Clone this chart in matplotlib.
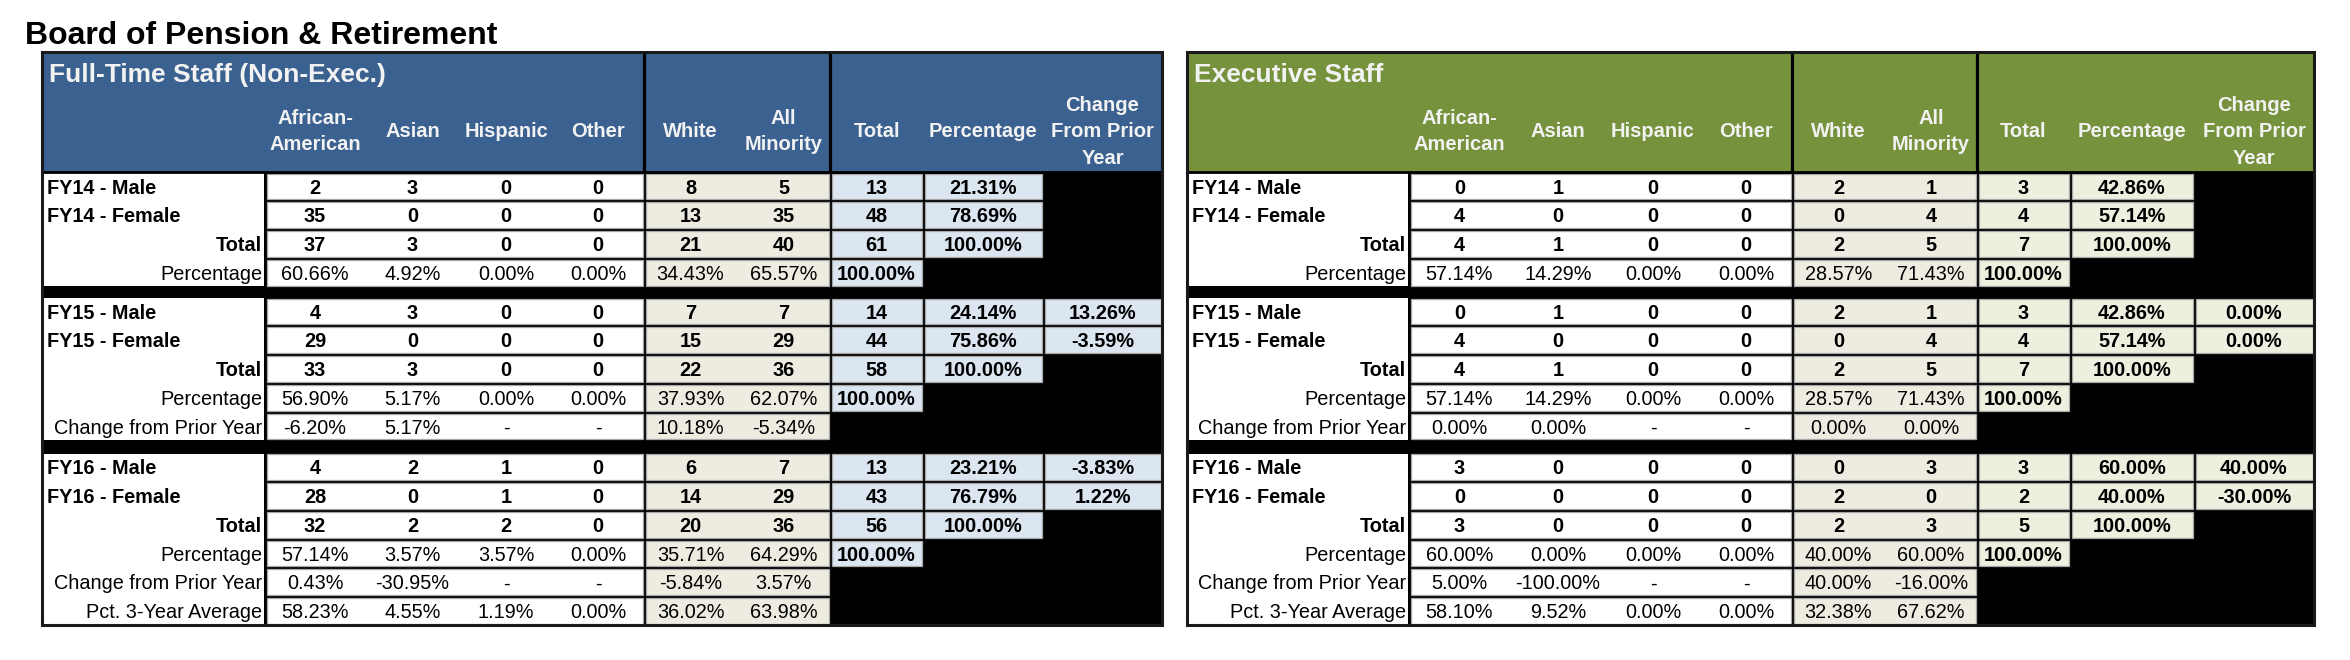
import matplotlib
matplotlib.use('Agg')
import matplotlib.pyplot as plt
from matplotlib.patches import Rectangle

plt.rcParams['font.family'] = ['Liberation Sans', 'DejaVu Sans']

# ---------------- data ----------------
title = "Board of Pension & Retirement"
col_headers = [["African-", "American"], ["Asian"], ["Hispanic"], ["Other"],
               ["White"], ["All", "Minority"], ["Total"], ["Percentage"],
               ["Change", "From Prior", "Year"]]
years = ["FY14", "FY15", "FY16"]

# Full-Time Staff (Non-Exec.)  counts: AA, Asian, Hispanic, Other, White, All Minority, Total
ft_fy14_male = [2, 3, 0, 0, 8, 5, 13]
ft_fy14_female = [35, 0, 0, 0, 13, 35, 48]
ft_fy14_total = [37, 3, 0, 0, 21, 40, 61]
ft_fy14_gender_pct = [21.31, 78.69, 100.00]
ft_fy14_pct = [60.66, 4.92, 0.00, 0.00, 34.43, 65.57, 100.00]

ft_fy15_male = [4, 3, 0, 0, 7, 7, 14]
ft_fy15_female = [29, 0, 0, 0, 15, 29, 44]
ft_fy15_total = [33, 3, 0, 0, 22, 36, 58]
ft_fy15_gender_pct = [24.14, 75.86, 100.00]
ft_fy15_gender_chg = [13.26, -3.59]
ft_fy15_pct = [56.90, 5.17, 0.00, 0.00, 37.93, 62.07, 100.00]
ft_fy15_chg = [-6.20, 5.17, None, None, 10.18, -5.34]

ft_fy16_male = [4, 2, 1, 0, 6, 7, 13]
ft_fy16_female = [28, 0, 1, 0, 14, 29, 43]
ft_fy16_total = [32, 2, 2, 0, 20, 36, 56]
ft_fy16_gender_pct = [23.21, 76.79, 100.00]
ft_fy16_gender_chg = [-3.83, 1.22]
ft_fy16_pct = [57.14, 3.57, 3.57, 0.00, 35.71, 64.29, 100.00]
ft_fy16_chg = [0.43, -30.95, None, None, -5.84, 3.57]
ft_avg3 = [58.23, 4.55, 1.19, 0.00, 36.02, 63.98]

# Executive Staff
ex_fy14_male = [0, 1, 0, 0, 2, 1, 3]
ex_fy14_female = [4, 0, 0, 0, 0, 4, 4]
ex_fy14_total = [4, 1, 0, 0, 2, 5, 7]
ex_fy14_gender_pct = [42.86, 57.14, 100.00]
ex_fy14_pct = [57.14, 14.29, 0.00, 0.00, 28.57, 71.43, 100.00]

ex_fy15_male = [0, 1, 0, 0, 2, 1, 3]
ex_fy15_female = [4, 0, 0, 0, 0, 4, 4]
ex_fy15_total = [4, 1, 0, 0, 2, 5, 7]
ex_fy15_gender_pct = [42.86, 57.14, 100.00]
ex_fy15_gender_chg = [0.00, 0.00]
ex_fy15_pct = [57.14, 14.29, 0.00, 0.00, 28.57, 71.43, 100.00]
ex_fy15_chg = [0.00, 0.00, None, None, 0.00, 0.00]

ex_fy16_male = [3, 0, 0, 0, 0, 3, 3]
ex_fy16_female = [0, 0, 0, 0, 2, 0, 2]
ex_fy16_total = [3, 0, 0, 0, 2, 3, 5]
ex_fy16_gender_pct = [60.00, 40.00, 100.00]
ex_fy16_gender_chg = [40.00, -30.00]
ex_fy16_pct = [60.00, 0.00, 0.00, 0.00, 40.00, 60.00, 100.00]
ex_fy16_chg = [5.00, -100.00, None, None, 40.00, -16.00]
ex_avg3 = [58.10, 9.52, 0.00, 0.00, 32.38, 67.62]

# ---------------- style / layout ----------------
W, H = 2350, 660
fig = plt.figure(figsize=(W / 100, H / 100), dpi=100)
ax = fig.add_axes([0, 0, 1, 1])
ax.set_xlim(0, W)
ax.set_ylim(H, 0)
ax.axis('off')

FS = 14.3
FS_HDR = 14.5
BASE = 7.2
HDR_TXT = '#F2F2F2'
BEIGE = '#EEECE1'
CELL_EDGE = '#A6A6A6'

TOP, HDR_BOT = 52, 172
RH = 28.75
GAPS = [10, 12]


def pct(v):
    return '-' if v is None else f"{v:.2f}%"


def rect(x0, y0, x1, y1, fc, ec='none', lw=0, z=1):
    ax.add_patch(Rectangle((x0, y0), x1 - x0, y1 - y0, facecolor=fc,
                           edgecolor=ec, linewidth=lw, zorder=z))


def build_blocks(p):
    g = globals()
    blocks = []
    for i, fy in enumerate(years):
        key = f"{p}_{fy.lower()}"
        male, female, total = g[key + '_male'], g[key + '_female'], g[key + '_total']
        gp = g[key + '_gender_pct']
        gc = g.get(key + '_gender_chg', [None, None])
        rows = []
        for lab, vals, gpv, gcv in [(f"{fy} - Male", male, gp[0], gc[0]),
                                    (f"{fy} - Female", female, gp[1], gc[1])]:
            cells = [(str(v), True) for v in vals] + [(pct(gpv), True)]
            cells.append(None if gcv is None else (pct(gcv), True))
            rows.append((lab, 'left', True, cells))
        cells = [(str(v), True) for v in total] + [(pct(gp[2]), True), None]
        rows.append(("Total", 'right', True, cells))
        pv = g[key + '_pct']
        cells = [(pct(v), False) for v in pv[:6]] + [(pct(pv[6]), True), None, None]
        rows.append(("Percentage", 'right', False, cells))
        if i > 0:
            cv = g[key + '_chg']
            cells = [(pct(v), False) for v in cv] + [None, None, None]
            rows.append(("Change from Prior Year", 'right', False, cells))
        if i == 2:
            av = g[p + '_avg3']
            cells = [(pct(v), False) for v in av] + [None, None, None]
            rows.append(("Pct. 3-Year Average", 'right', False, cells))
        blocks.append(rows)
    return blocks


def draw_table(E, hdr_color, hdr_title, accent, blocks):
    x0, xr = E[0], E[-1]
    n_rows = sum(len(b) for b in blocks)
    bottom = HDR_BOT + n_rows * RH + sum(GAPS)
    rect(x0, TOP, xr, bottom, 'black', z=0)
    # header
    rect(x0, TOP, xr, HDR_BOT, hdr_color, z=1)
    for xe in (E[5], E[7]):
        ax.plot([xe, xe], [TOP, HDR_BOT], color='black', lw=2.3, zorder=3,
                solid_capstyle='butt')
    ax.text(x0 + 7, 82, hdr_title, fontsize=19, fontweight='bold', color=HDR_TXT,
            ha='left', va='baseline', zorder=4)
    for j, lines in enumerate(col_headers):
        cx = (E[j + 1] + E[j + 2]) / 2
        n = len(lines)
        for k, line in enumerate(lines):
            cy = 130 + (k - (n - 1) / 2) * 26.5
            ax.text(cx, cy + BASE, line, fontsize=FS_HDR, fontweight='bold',
                    color=HDR_TXT, ha='center', va='baseline', zorder=4)
    # body
    groups = [(0, 4, 'white'), (4, 6, BEIGE), (6, 7, accent), (7, 8, accent), (8, 9, accent)]
    y = HDR_BOT
    for bi, rows in enumerate(blocks):
        by0 = y
        by1 = y + len(rows) * RH
        rect(x0 + 1.5, by0 + 1.2, E[1] - 1.5, by1 - 1.2, 'white', z=1)
        for lab, align, bold, cells in rows:
            yc = y + RH / 2
            if align == 'left':
                ax.text(x0 + 5, yc + BASE, lab, fontsize=FS, fontweight='bold',
                        ha='left', va='baseline', zorder=4)
            else:
                ax.text(E[1] - 3, yc + BASE, lab, fontsize=FS,
                        fontweight='bold' if bold else 'normal',
                        ha='right', va='baseline', zorder=4)
            for a, b, fc in groups:
                if any(cells[k] is not None for k in range(a, b)):
                    rect(E[a + 1] + 1.5, y + 1.5, E[b + 1] - 1.5, y + RH - 1.5, fc,
                         ec=CELL_EDGE, lw=0.9, z=1)
            for k, c in enumerate(cells):
                if c is None:
                    continue
                txt, bd = c
                cx = (E[k + 1] + E[k + 2]) / 2
                ax.text(cx, yc + BASE, txt, fontsize=FS,
                        fontweight='bold' if bd else 'normal',
                        ha='center', va='baseline', zorder=4)
            y += RH
        if bi < len(GAPS):
            y += GAPS[bi]
    ax.plot([x0, xr], [HDR_BOT, HDR_BOT], color='black', lw=2, zorder=3)
    ax.add_patch(Rectangle((x0, TOP), xr - x0, bottom - TOP, fill=False,
                           edgecolor='#1A1A1A', linewidth=2.2, zorder=5))


ax.text(25, 44, title, fontsize=23, fontweight='bold', color='black',
        ha='left', va='baseline')

E_left = [42, 265, 365, 460, 552, 644, 737, 830, 923, 1043, 1162]
E_right = [1187, 1409, 1510, 1606, 1700, 1792, 1885, 1977, 2070, 2194, 2314]

draw_table(E_left, '#3A6190', "Full-Time Staff (Non-Exec.)", '#DCE6F1', build_blocks('ft'))
draw_table(E_right, '#76923C', "Executive Staff", '#EBF1DE', build_blocks('ex'))

fig.savefig('out.png', dpi=100, facecolor='white')
